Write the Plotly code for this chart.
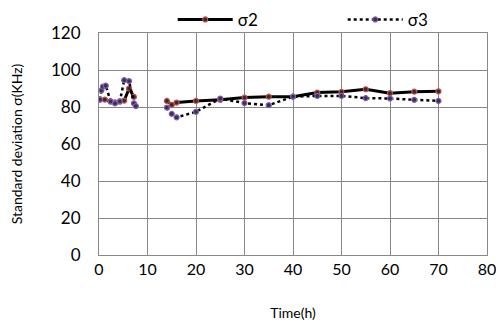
import plotly.graph_objects as go

# Time (h) and standard deviations (kHz); None marks the gap in the record
time_h = [0.2, 0.5, 0.8, 1.2, 1.4, 2.4, 3.3, 4.3, 5.2, 6.2, 7.2, 7.6,
          None,
          14, 15, 16, 20, 25, 30, 35, 40, 45, 50, 55, 60, 65, 70]
sigma2 = [84, None, None, 84, None, 83, 82.5, 83, 83.5, 90, 85.5, None,
          None,
          83.3, 81.2, 82.4, 83.3, 83.9, 85.1, 85.6, 85.6, 87.8, 88.2, 89.6, 87.5, 88.3, 88.5]
sigma3 = [84, 89, 91, None, 91.5, 83, 82, 83, 94.5, 94, 82, 80.5,
          None,
          79.7, 76.3, 74.4, 77.4, 84.6, 82.1, 81.0, 85.6, 86, 86, 84.8, 84.6, 83.9, 83.3]

x_ticks = [0, 10, 20, 30, 40, 50, 60, 70, 80]
y_ticks = [0, 20, 40, 60, 80, 100, 120]

def clean(xs, ys):
    ox, oy = [], []
    for x, y in zip(xs, ys):
        if x is None:
            ox.append(None); oy.append(None)
        elif y is not None:
            ox.append(x); oy.append(y)
    return ox, oy

x2, y2 = clean(time_h, sigma2)
x3, y3 = clean(time_h, sigma3)

FONT = "Lato, 'Open Sans', DejaVu Sans, sans-serif"

fig = go.Figure()
fig.add_trace(go.Scatter(
    x=x2, y=y2, name="σ2", mode="lines+markers", connectgaps=False,
    line=dict(color="black", width=3),
    marker=dict(symbol="circle", size=5, color="#3a2a2a",
                line=dict(color="#c0504d", width=1.2)),
))
fig.add_trace(go.Scatter(
    x=x3, y=y3, name="σ3", mode="lines+markers", connectgaps=False,
    line=dict(color="black", width=2.5, dash="dot"),
    marker=dict(symbol="circle", size=5, color="#3b2a66",
                line=dict(color="#8064a2", width=1.2)),
))

fig.update_layout(
    width=504, height=335,
    margin=dict(l=91, r=25, t=25, b=88, autoexpand=False),
    paper_bgcolor="white", plot_bgcolor="white",
    font=dict(family=FONT, color="black"),
    showlegend=True,
    legend=dict(orientation="h", x=0.19, y=1.14, xanchor="left", yanchor="top",
                yref="paper",
                font=dict(size=17, family=FONT), bgcolor="rgba(0,0,0,0)",
                entrywidth=100, itemwidth=55),
    xaxis=dict(range=[0, 80], tickvals=x_ticks, ticktext=[str(v) for v in x_ticks],
               showgrid=True, gridcolor="#888888", gridwidth=1, automargin=False,
               zeroline=False, showline=True, linecolor="#888888", mirror=True,
               ticks="", tickfont=dict(size=16, family=FONT),
               title=dict(text="Time(h)", font=dict(size=14, family=FONT), standoff=30)),
    yaxis=dict(range=[0, 120], tickvals=y_ticks, ticktext=[str(v) for v in y_ticks],
               showgrid=True, gridcolor="#888888", gridwidth=1, automargin=False,
               zeroline=False, showline=True, linecolor="#888888", mirror=True,
               ticks="", tickfont=dict(size=17, family=FONT), ticklabelstandoff=14,
               title=dict(text="Standard deviation σ(KHz)", font=dict(size=14, family=FONT),
                          standoff=30)),
)

fig.write_html("out.html")
